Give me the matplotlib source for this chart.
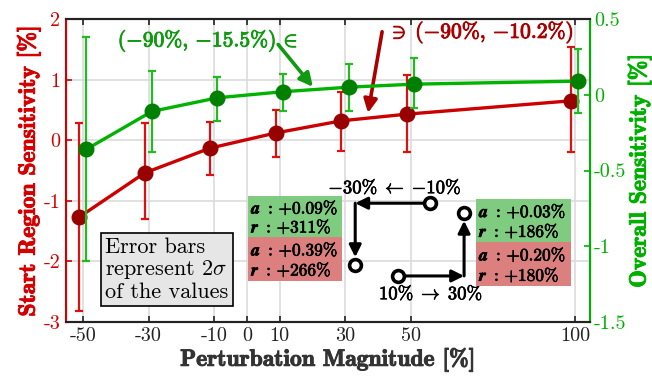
import matplotlib
matplotlib.use("Agg")
import matplotlib.pyplot as plt
import matplotlib.patheffects as pe
from matplotlib.patches import Rectangle

# --- dados ---
perturb = [-50, -30, -10, 10, 30, 50, 100]

start_mean = [-1.27, -0.54, -0.13, 0.12, 0.32, 0.43, 0.65]
start_hi = [0.29, 0.28, 0.30, 0.50, 0.80, 1.08, 1.53]
start_lo = [-2.82, -1.30, -0.57, -0.27, -0.17, -0.20, -0.20]

overall_mean = [-0.36, -0.11, -0.02, 0.02, 0.05, 0.07, 0.09]
overall_hi = [0.38, 0.16, 0.12, 0.14, 0.20, 0.24, 0.30]
overall_lo = [-1.10, -0.38, -0.17, -0.11, -0.11, -0.09, -0.12]

xticks = [-50, -30, -10, 0, 10, 30, 50, 100]
xtick_labels = ["-50", "-30", "-10", "0", "10", "30", "50", "100"]
left_ticks = [2, 1, 0, -1, -2, -3]
left_labels = ["2", "1", "0", "-1", "-2", "-3"]
right_ticks = [0.5, 0, -0.5, -1, -1.5]
right_labels = ["0.5", "0", "-0.5", "-1", "-1.5"]

# --- estilo ---
plt.rcParams["font.family"] = "serif"
plt.rcParams["font.serif"] = ["cmr10"]
plt.rcParams["mathtext.fontset"] = "cm"
plt.rcParams["axes.unicode_minus"] = False

RED_AX = "#d40000"
RED_LINE = "#cc0000"
RED_MK = "#990000"
GRN_AX = "#00b000"
GRN_LINE = "#00b300"
GRN_MK = "#008000"


def heavy(color, w=0.7):
    # engrossa o cmb10 para parecer cmbx
    return [pe.withStroke(linewidth=w, foreground=color)]


fig = plt.figure(figsize=(6.52, 3.76), dpi=100)
ax = fig.add_axes([66 / 652, 1 - 322 / 376, 524 / 652, 303 / 376])
ax2 = ax.twinx()

# --- serie vermelha (eixo esquerdo) ---
xr = [x - 1.2 for x in perturb]
err_r = [[m - l for m, l in zip(start_mean, start_lo)],
         [h - m for m, h in zip(start_mean, start_hi)]]
ax.errorbar(xr, start_mean, yerr=err_r, fmt="none", ecolor="#dd1111",
            elinewidth=1.6, capsize=3, capthick=1.6, zorder=3)
ax.plot(xr, start_mean, color=RED_LINE, lw=2.4, zorder=4)
ax.plot(xr, start_mean, "o", color=RED_MK, ms=10.5, zorder=5)

# --- serie verde (eixo direito) ---
xg = [x + 1.0 for x in perturb]
err_g = [[m - l for m, l in zip(overall_mean, overall_lo)],
         [h - m for m, h in zip(overall_mean, overall_hi)]]
ax2.errorbar(xg, overall_mean, yerr=err_g, fmt="none", ecolor="#22bb22",
             elinewidth=1.6, capsize=3, capthick=1.6, zorder=3)
ax2.plot(xg, overall_mean, color=GRN_LINE, lw=2.4, zorder=4)
ax2.plot(xg, overall_mean, "o", color=GRN_MK, ms=10.5, zorder=5)

# --- eixos ---
ax.set_xlim(-55.2, 104.6)
ax.set_ylim(-3, 2)
ax2.set_ylim(-1.5, 0.5)
ax.set_xticks(xticks)
ax.set_xticklabels(xtick_labels, fontsize=14.5, color="#222222")
ax.set_yticks(left_ticks)
ax.set_yticklabels(left_labels, fontsize=14.5, color=RED_AX)
ax2.set_yticks(right_ticks)
ax2.set_yticklabels(right_labels, fontsize=14.5, color=GRN_AX)

ax.tick_params(axis="x", direction="in", top=True, length=4, width=1.2,
               color="#222222", pad=4)
ax.tick_params(axis="y", direction="in", length=4, width=1.2, color=RED_AX,
               pad=4)
ax2.tick_params(axis="y", direction="in", length=4, width=1.2, color=GRN_AX,
                pad=3)

ax.grid(True, color="#dcdcdc", lw=1.2, zorder=0)
ax.set_axisbelow(True)

for a in (ax, ax2):
    a.spines["top"].set_color("#222222")
    a.spines["bottom"].set_color("#222222")
    a.spines["top"].set_linewidth(1.5)
    a.spines["bottom"].set_linewidth(1.5)
ax2.spines["left"].set_color(RED_AX)
ax2.spines["left"].set_linewidth(1.5)
ax2.spines["right"].set_color(GRN_AX)
ax2.spines["right"].set_linewidth(1.5)

ax.set_xlabel("Perturbation Magnitude [%]", fontfamily="cmb10",
              fontsize=17, color="#333333", labelpad=1,
              path_effects=heavy("#333333"))
ax.set_ylabel("Start Region Sensitivity [%]", fontfamily="cmb10",
              fontsize=17, color=RED_AX, labelpad=2,
              path_effects=heavy(RED_AX))
ax2.set_ylabel("Overall Sensitivity [%]", fontfamily="cmb10",
               fontsize=17, color=GRN_AX, labelpad=0,
               path_effects=heavy(GRN_AX))

# --- anotacoes com setas ---
ax.text(15.5, 1.64, r"$\mathbf{({-}90\%,\,{-}15.5\%)}\,\in$",
        color="#119911", fontsize=15.5, ha="right", va="center", zorder=6,
        path_effects=heavy("#119911"))
ax.annotate("", xy=(20.1, 0.88), xytext=(9.5, 1.58),
            arrowprops=dict(arrowstyle="-|>", color="#119911", lw=2.6,
                            mutation_scale=20, shrinkA=0, shrinkB=0))
ax.text(43.0, 1.78, r"$\ni\;\mathbf{({-}90\%,\,{-}10.2\%)}$",
        color="#aa0000", fontsize=15.5, ha="left", va="center", zorder=6,
        path_effects=heavy("#aa0000"))
ax.annotate("", xy=(36.9, 0.45), xytext=(41.2, 1.79),
            arrowprops=dict(arrowstyle="-|>", color="#aa0000", lw=2.6,
                            mutation_scale=20, shrinkA=0, shrinkB=0))

# --- diagramas ---
arrow_kw = dict(arrowstyle="-|>", color="k", lw=2.2, mutation_scale=18,
                shrinkA=0, shrinkB=0)
ax.annotate("", xy=(33, -1.04), xytext=(55.8, -1.04), arrowprops=arrow_kw,
            zorder=6)
ax.annotate("", xy=(33, -1.93), xytext=(33, -1.04), arrowprops=arrow_kw,
            zorder=6)
ax.plot([55.8, 33], [-1.04, -2.06], "o", ms=8.5, mfc="white", mec="k",
        mew=2.6, ls="none", zorder=7)
ax.text(45.1, -0.77, r"$\mathbf{{-}30\%}\;\leftarrow\;\mathbf{{-}10\%}$",
        fontsize=13.5, ha="center", va="center", path_effects=heavy("k", 0.5))

ax.annotate("", xy=(66.2, -2.24), xytext=(46, -2.24), arrowprops=arrow_kw,
            zorder=6)
ax.annotate("", xy=(66.2, -1.33), xytext=(66.2, -2.24), arrowprops=arrow_kw,
            zorder=6)
ax.plot([46, 66.2], [-2.24, -1.2], "o", ms=8.5, mfc="white", mec="k",
        mew=2.6, ls="none", zorder=7)
ax.text(56.1, -2.52, r"$\mathbf{10\%}\;\rightarrow\;\mathbf{30\%}$",
        fontsize=13.5, ha="center", va="center", path_effects=heavy("k", 0.5))

# --- caixas de resultado ---
boxes = [
    (0.3, 29.0, -0.92, -1.60, -2.32,
     ("+0.09", "+311"), ("+0.39", "+266")),
    (69.8, 98.8, -0.97, -1.68, -2.41,
     ("+0.03", "+186"), ("+0.20", "+180")),
]
for x0, x1, ytop, ymid, ybot, gvals, rvals in boxes:
    ax.add_patch(Rectangle((x0, ymid), x1 - x0, ytop - ymid,
                           facecolor="#7fcb7f", edgecolor="none", zorder=5))
    ax.add_patch(Rectangle((x0, ybot), x1 - x0, ymid - ybot,
                           facecolor="#dc7f7f", edgecolor="none", zorder=5))
    for (yt, yb), vals in (((ytop, ymid), gvals), ((ymid, ybot), rvals)):
        h = yt - yb
        ax.text(x0 + 1.0, yt - h * 0.28,
                r"$\mathbfit{a}\ \mathbf{:}\,\mathbf{%s\%%}$" % vals[0],
                fontsize=12.5, va="center", ha="left", zorder=6,
                path_effects=heavy("k", 0.5))
        ax.text(x0 + 1.0, yt - h * 0.74,
                r"$\mathbfit{r}\ \mathbf{:}\,\mathbf{%s\%%}$" % vals[1],
                fontsize=12.5, va="center", ha="left", zorder=6,
                path_effects=heavy("k", 0.5))

# --- caixa de legenda ---
ax.text(-43.3, -1.60, "Error bars\nrepresent $2\\sigma$\nof the values",
        fontsize=16, va="top", ha="left", linespacing=1.08, zorder=6,
        bbox=dict(boxstyle="square,pad=0.2", facecolor="#e6e6e6",
                  edgecolor="k", lw=1.2))

fig.savefig("out.png", dpi=100)
